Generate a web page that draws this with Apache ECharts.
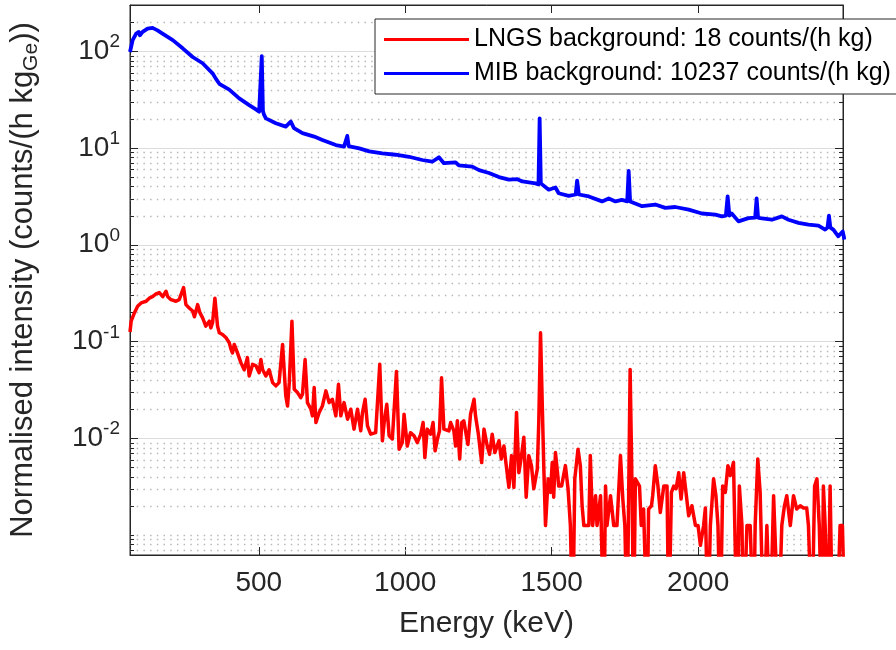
<!DOCTYPE html>
<html>
<head>
<meta charset="utf-8">
<script src="https://cdn.jsdelivr.net/npm/echarts@6/dist/echarts.min.js"></script>
<style>html,body{margin:0;padding:0;background:#fff;}#main{width:896px;height:650px;}</style>
</head>
<body>
<div id="main"></div>
<script>
// ---- data ----
const mibEnergy = [60,69,81,90,94,103,120,137,154,171,206,240,274,308,342,353,365,399,433,467,490,501,506,510,514,518,524,558,592,609,620,649,689,717,763,791,797,802,807,814,843,877,922,967,1013,1058,1092,1115,1132,1172,1183,1229,1252,1286,1320,1354,1383,1400,1445,1455,1459,1463,1467,1490,1513,1524,1558,1582,1587,1593,1627,1672,1695,1718,1740,1758,1763,1768,1774,1809,1854,1888,1922,1968,2013,2059,2081,2095,2101,2107,2115,2138,2172,2195,2200,2205,2212,2252,2286,2309,2343,2377,2411,2434,2442,2447,2452,2462,2479,2494,2500];
const mibRate = [98,130,152,158,146,158,171,174,164,152,130,107,87,75,59,52,46,40,32.5,27.7,25,23.7,23.5,89,24,21.9,20.2,18,16.6,18.7,16,14.2,13.1,12.1,10.7,10.3,10.3,13.3,10.4,10.3,9.9,9.2,8.8,8.5,8.1,7.5,7.2,8.0,6.95,7.1,6.6,6.4,5.9,5.5,5.0,4.7,4.75,4.5,4.3,4.2,20.2,4.3,4.16,3.7,3.9,3.4,3.2,3.3,4.6,3.3,3.15,2.8,3.0,2.8,2.9,2.8,5.8,2.8,2.7,2.5,2.6,2.4,2.45,2.3,2.1,2.04,1.96,2.0,3.15,2.0,2.1,1.74,1.88,1.9,3.0,1.9,1.88,1.81,1.96,1.81,1.68,1.61,1.57,1.43,1.5,1.99,1.5,1.43,1.22,1.37,1.13];

const lngsEnergy = [60,64,75,86,98,103,115,126,137,149,160,172,177,183,189,200,217,228,243,251,263,274,280,291,299,308,319,331,336,342,350,359,365,376,388,399,405,410,416,427,439,450,461,467,479,490,501,507,513,524,535,547,558,569,581,592,598,604,613,621,632,643,649,658,666,678,683,689,695,706,717,729,740,751,763,772,780,791,803,814,825,837,848,854,863,871,882,899,913,922,928,937,945,956,970,979,990,
996,1007,1018,1030,1041,1053,1061,1067,1075,1087,1095,1102,1110,1117,1124,1132,1149,1155,1166,1172,1178,1186,1193,1200,1206,1214,1223,1235,1240,1249,1261,1269,1280,1288,1297,1306,1320,1328,1337,1345,1354,1363,1371,1380,1388,1397,1405,1413,1422,1431,1439,1451,1456,1462,1468,1473,1479,1488,1496,1502,1507,1513,1520,1524,1534,1547,1556,1564,1572,1579,1590,1598,1604,1610,1627,1632,1640,1650,1655,1667,1678,1684,1689,1701,1712,1723,1735,1743,1750,1758,1763,1768,1775,1780,1786,1800,1806,1814,1826,1831,1841,1845,1854,1863,1871,1883,1894,1900,1909,1917,1925,1934,1942,1951,1957,1968,1979,1991,2000,2008,2019,2025,2034,2042,2053,2061,2068,2076,2084,2093,2102,2110,2121,2133,2141,2150,2155,2167,2178,2190,2195,2204,2212,2224,2235,2246,2258,2263,2275,2286,2295,2303,2315,2326,2337,2349,2360,2371,2377,2389,2398,2406,2414,2423,2428,2434,2443,2451,2459,2474,2485,2493,2502];
// 1e-4 marks empty bins (below the visible range)
const lngsRate = [0.125,0.162,0.197,0.231,0.25,0.24,0.26,0.28,0.29,0.31,0.32,0.29,0.28,0.33,0.29,0.27,0.26,0.27,0.36,0.24,0.22,0.206,0.18,0.24,0.197,0.175,0.144,0.162,0.138,0.156,0.28,0.144,0.123,0.118,0.109,0.097,0.083,0.076,0.093,0.076,0.060,0.051,0.068,0.044,0.058,0.056,0.0475,0.065,0.051,0.044,0.051,0.0375,0.0347,0.0375,0.093,0.0274,0.0215,0.0375,0.162,0.032,0.0296,0.0262,0.0284,0.065,0.0233,0.0199,0.017,0.0333,0.0145,0.0184,0.0215,0.0308,0.0233,0.0252,0.017,0.036,0.017,0.0233,0.0157,0.0199,0.0124,0.0199,0.0119,0.0184,0.0252,0.0134,0.011,0.0114,0.058,0.0094,0.0145,0.0224,0.0106,0.0098,0.049,0.0077,0.009,
0.0177,0.0083,0.0114,0.0106,0.009,0.011,0.0145,0.0063,0.0124,0.011,0.0145,0.0074,0.0098,0.0119,0.042,0.0124,0.0119,0.0145,0.0119,0.0083,0.0151,0.0061,0.0145,0.0151,0.0145,0.0086,0.0177,0.0252,0.017,0.0114,0.0056,0.0124,0.0083,0.0068,0.011,0.0071,0.0094,0.0061,0.0083,0.0052,0.0031,0.0066,0.0031,0.0184,0.0044,0.0066,0.0102,0.00245,0.0066,0.0052,0.003,0.0048,0.0145,0.123,0.118,0.0052,0.00125,0.0038,0.00275,0.0056,0.00245,0.0071,0.0044,0.0032,0.0032,0.0052,0.003,0.00125,1e-4,0.0038,0.0077,0.0052,0.002,0.00125,0.00125,0.0066,0.00125,0.00254,0.00125,0.00254,1e-4,0.0032,0.00125,0.00254,0.00125,0.00125,0.0066,0.00235,0.00125,1e-4,0.00254,0.0514,0.00245,1e-4,0.0038,0.0032,0.00125,0.00185,1e-4,0.00185,0.002,0.00254,0.0052,0.0032,0.0017,0.0032,0.0032,1e-4,0.00275,0.0032,0.003,0.0044,0.00235,0.0044,0.0044,0.00158,0.002,0.00125,0.00125,0.00078,0.00125,0.0019,1e-4,0.00125,0.0038,0.00254,0.00125,1e-4,0.0032,0.00275,0.0052,0.0041,0.0056,1e-4,0.0032,0.00125,1e-4,0.00125,0.00125,1e-4,0.00125,0.0061,0.00275,1e-4,0.00125,1e-4,0.00254,0.00254,1e-4,0.00125,0.002,0.00254,0.00125,0.00254,0.00185,0.002,0.0019,0.0019,0.00125,1e-4,0.0032,0.0038,0.00125,1e-4,0.0032,0.00125,1e-4,0.0032,1e-4,1e-4,0.00125,0.00125,1e-4];

const seriesNames = ['LNGS background: 18 counts/(h kg)', 'MIB background: 10237 counts/(h kg)'];
const xRange = [60, 2495];
const yRange = [6.2e-4, 300];
const majorDecades = [0.01, 0.1, 1, 10, 100];
const minorMultiples = [1, 2, 3, 4, 5, 6, 7, 8, 9];
const minorExponents = [-4, -3, -2, -1, 0, 1, 2];

function zip(xs, ys) { return xs.map((x, i) => [x, ys[i]]); }

// grid-line values (axis values, drawn through the y scale)
const gridData = [];
majorDecades.forEach(v => gridData.push([xRange[0], v, 1]));
minorExponents.forEach(k => minorMultiples.forEach(m => {
  const v = m * Math.pow(10, k);
  const isMajor = majorDecades.some(d => Math.abs(d - v) / d < 1e-9);
  if (!isMajor && v > yRange[0] && v < yRange[1]) gridData.push([xRange[0], v, 0]);
}));

const FONT = 'Liberation Sans';
const TXT = '#262626';

const chart = echarts.init(document.getElementById('main'), null, {renderer: 'canvas'});
chart.setOption({
  animation: false,
  backgroundColor: '#ffffff',
  textStyle: {fontFamily: FONT},
  grid: {left: 127, top: 5, width: 716, height: 550, show: true, borderColor: TXT, borderWidth: 1, backgroundColor: 'transparent'},
  legend: {
    data: seriesNames,
    orient: 'vertical',
    left: 375, top: 19,
    padding: [8, 6, 8, 9],
    itemGap: 9,
    itemWidth: 85, itemHeight: 3,
    icon: 'rect',
    backgroundColor: '#ffffff',
    borderColor: TXT, borderWidth: 1,
    textStyle: {fontFamily: FONT, fontSize: 25, color: '#000'}
  },
  xAxis: [{
    type: 'value', min: xRange[0], max: xRange[1], splitNumber: 5,
    position: 'bottom',
    name: 'Energy (keV)', nameLocation: 'middle', nameGap: 54,
    nameTextStyle: {fontFamily: FONT, fontSize: 30, color: TXT},
    axisLine: {show: true, lineStyle: {color: TXT, width: 1}},
    axisTick: {show: true, inside: true, length: 8, lineStyle: {color: TXT}},
    axisLabel: {fontFamily: FONT, fontSize: 28, color: TXT, margin: 14, showMinLabel: false, showMaxLabel: false,
      formatter: function (v) { return String(Math.round(v)); }},
    splitLine: {show: false}
  }, {
    type: 'value', min: xRange[0], max: xRange[1], splitNumber: 5,
    position: 'top',
    axisLine: {show: true, lineStyle: {color: TXT, width: 1}},
    axisTick: {show: true, inside: true, length: 8, lineStyle: {color: TXT}},
    axisLabel: {show: false},
    splitLine: {show: false}
  }],
  yAxis: [{
    type: 'log', logBase: 10, min: yRange[0], max: yRange[1], splitNumber: 5,
    position: 'left',
    name: '{n|Normalised intensity (counts/(h kg}{sub|Ge}{n|))}',
    nameLocation: 'middle', nameGap: 88,
    nameTextStyle: {fontFamily: FONT, color: TXT, rich: {
      n: {fontFamily: FONT, fontSize: 31, color: TXT},
      sub: {fontFamily: FONT, fontSize: 21, color: TXT, padding: [16, 0, 0, 0]}
    }},
    axisLine: {show: true, lineStyle: {color: TXT, width: 1}},
    axisTick: {show: false},
    axisLabel: {
      margin: 10,
      formatter: function (v) {
        const e = Math.round(Math.log10(v));
        if (Math.abs(Math.log10(v) - e) > 1e-6 || e < -2 || e > 2) return '';
        return '{b|10}{s|' + e + '}';
      },
      rich: {
        b: {fontFamily: FONT, fontSize: 28, color: TXT},
        s: {fontFamily: FONT, fontSize: 19, color: TXT, padding: [0, 0, 18, 0]}
      }
    },
    splitLine: {show: false}
  }, {
    type: 'log', logBase: 10, min: yRange[0], max: yRange[1],
    position: 'right',
    axisLine: {show: true, lineStyle: {color: TXT, width: 1}},
    axisTick: {show: false},
    axisLabel: {show: false},
    splitLine: {show: false}
  }],
  series: [{
    type: 'custom',
    name: 'grid',
    silent: true,
    z: 1,
    data: gridData,
    renderItem: function (params, api) {
      const cs = params.coordSys;
      const y = Math.round(api.coord([api.value(0), api.value(1)])[1]) + 0.5;
      const major = api.value(2) === 1;
      const tl = major ? 8 : 4;
      return {type: 'group', children: [
        {type: 'line', shape: {x1: cs.x, y1: y, x2: cs.x + cs.width, y2: y},
          style: major ? {stroke: '#dcdcdc', lineWidth: 1.2} : {stroke: '#b8b8b8', lineWidth: 1.3, lineDash: [1.5, 5.2]}},
        {type: 'line', shape: {x1: cs.x, y1: y, x2: cs.x + tl, y2: y}, style: {stroke: TXT, lineWidth: 1}},
        {type: 'line', shape: {x1: cs.x + cs.width, y1: y, x2: cs.x + cs.width - tl, y2: y}, style: {stroke: TXT, lineWidth: 1}}
      ]};
    }
  }, {
    type: 'line', name: seriesNames[0],
    data: zip(lngsEnergy, lngsRate),
    showSymbol: false, symbol: 'none', clip: true, z: 3,
    color: '#ff0000',
    lineStyle: {color: '#ff0000', width: 3.5, join: 'round'}
  }, {
    type: 'line', name: seriesNames[1],
    data: zip(mibEnergy, mibRate),
    showSymbol: false, symbol: 'none', clip: true, z: 3,
    color: '#0000ff',
    lineStyle: {color: '#0000ff', width: 3.8, join: 'round'}
  }]
});
</script>
</body>
</html>
